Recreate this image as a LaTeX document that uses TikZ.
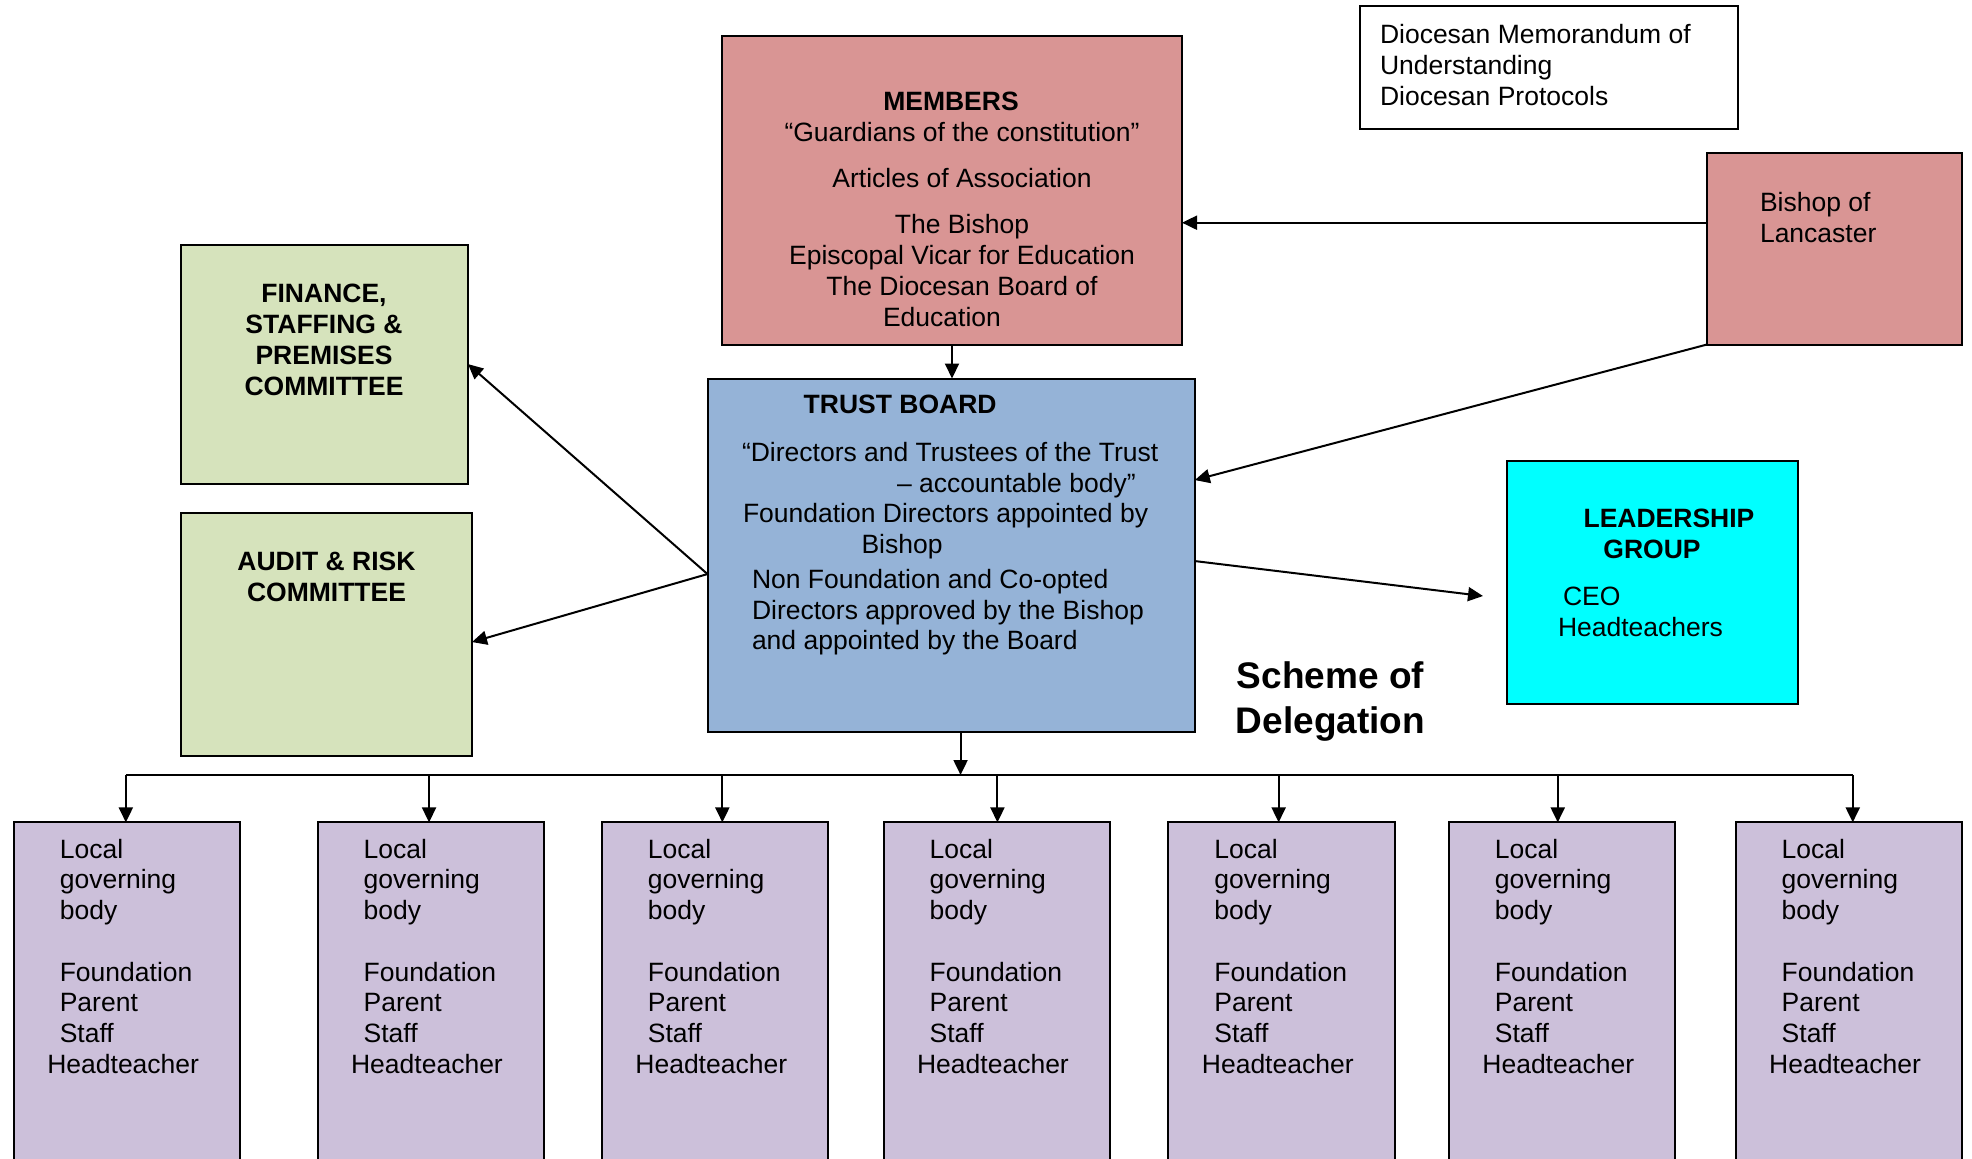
\documentclass[tikz,border=0pt]{standalone}
\usepackage{fontspec}
\setmainfont{Liberation Sans}
\usetikzlibrary{arrows.meta,calc}
\definecolor{memc}{HTML}{D99594}
\definecolor{finc}{HTML}{D6E3BC}
\definecolor{tbc}{HTML}{95B3D7}
\definecolor{leadc}{HTML}{00FFFF}
\definecolor{lgbc}{HTML}{CCC0DA}
\newcommand\fn{\fontsize{13.25pt}{15.5pt}\selectfont}
\newcommand\fnl{\fontsize{13.25pt}{15.35pt}\selectfont}
\newcommand\fbig{\fontsize{18.5pt}{22.5pt}\selectfont\bfseries}
\newcommand\tstrut{\rule{0pt}{10pt}}
\begin{document}
\begin{tikzpicture}[x=0.5pt,y=-0.5pt,
  box/.style={draw=black, line width=1pt, inner sep=0pt, outer sep=0pt, rectangle},
  txt/.style={inner sep=0pt, outer sep=0pt, font=\fn, align=left},
  ctxt/.style={inner sep=0pt, outer sep=0pt, font=\fn, align=center},
  conn/.style={draw=black, line width=1pt},
  arr/.style={conn, -{Triangle[length=7.5pt,width=7pt]}}]
\useasboundingbox (0,0) rectangle (1972,1158);
\clip (0,0) rectangle (1972,1158);
\fill[white] (0,0) rectangle (1972,1158);

% boxes
\node[box, fill=memc, minimum width=230pt, minimum height=154.25pt] (mem) at (952,190.25) {};
\node[box, fill=finc, minimum width=143.75pt, minimum height=119.6pt] (fin) at (324.25,364.1) {};
\node[box, fill=finc, minimum width=145.5pt, minimum height=121.45pt] (aud) at (326.5,634.05) {};
\node[box, fill=tbc, minimum width=243.65pt, minimum height=176.75pt] (tb) at (951.15,555.25) {};
\node[box, fill=white, minimum width=188.95pt, minimum height=61.35pt] (memo) at (1548.55,67.65) {};
\node[box, fill=memc, minimum width=127.5pt, minimum height=96pt] (bish) at (1834.5,248.5) {};
\node[box, fill=leadc, minimum width=145.65pt, minimum height=121.4pt] (lead) at (1652.35,582.4) {};

% texts
\node[ctxt, anchor=north] (memt) at (962,90.5) {\tstrut\textbf{MEMBERS}\hspace*{11pt}\\``Guardians of the constitution''\\[7.5pt]Articles of Association\\[7.5pt]The Bishop\\Episcopal Vicar for Education\\The Diocesan Board of\\Education\hspace*{20pt}};
\node[ctxt, anchor=north, font=\fn\bfseries] (fint) at (324,282) {\tstrut FINANCE,\\STAFFING \&\\PREMISES\\COMMITTEE};
\node[ctxt, anchor=north, font=\fn\bfseries] (audt) at (326.5,550) {\tstrut AUDIT \& RISK\\COMMITTEE};
\node[txt, anchor=north west, font=\fn\bfseries] (tbh) at (803.7,393.5) {\tstrut TRUST BOARD};
\node[txt, anchor=north west, font=\fontsize{13.25pt}{15.25pt}\selectfont] (tbt) at (742,441.5) {\tstrut``Directors and Trustees of the Trust\\\hspace*{77.5pt}-- accountable body''\\\hspace*{0.5pt}Foundation Directors appointed by\\\hspace*{59.75pt}Bishop\\[2.5pt]\hspace*{5pt}Non Foundation and Co-opted\\\hspace*{5pt}Directors approved by the Bishop\\\hspace*{5pt}and appointed by the Board};
\node[txt, anchor=north west] (memot) at (1380,23) {\tstrut Diocesan Memorandum of\\Understanding\\Diocesan Protocols};
\node[txt, anchor=north west] (bisht) at (1760,191.5) {\tstrut Bishop of\\Lancaster};
\node[ctxt, anchor=north, font=\fontsize{13.25pt}{15.7pt}\selectfont\bfseries] (leadh) at (1652,507.5) {\tstrut\hspace*{17pt}LEADERSHIP\\GROUP};
\node[txt, anchor=north west] (leadt) at (1558,585) {\tstrut\hspace*{2.5pt}CEO\\Headteachers};
\node[ctxt, anchor=north, font=\fbig] (scheme) at (1330.5,660) {\rule{0pt}{14pt}Scheme of\\Delegation};

% local governing bodies
\coordinate (bus) at (0,775);
\foreach \i/\cx/\dx in {1/127.05/-0.6, 2/430.85/-0.9, 3/715.15/3.6, 4/996.85/0.3, 5/1281.65/-1.5, 6/1562.15/-2.2, 7/1848.95/1.9} {
  \node[box, fill=lgbc, minimum width=113.25pt, minimum height=178.8pt] (lgb\i) at (\cx,1001.2) {};
  \node[txt, anchor=north west, font=\fnl] (lgbt\i) at ([xshift=23pt,yshift=-7.9pt]lgb\i.north west) {\tstrut Local\\governing\\body\\[15.35pt]Foundation\\Parent\\Staff\\\hspace*{-6.25pt}Headteacher};
  \coordinate (d\i) at ([xshift=\dx pt]lgb\i.north);
  \draw[arr] (d\i |- bus) -- (d\i);
}
\draw[conn] (d1 |- bus) -- (d7 |- bus);

% connectors
\draw[arr] (mem.south) -- (mem.south |- tb.north);
\coordinate (tbd) at ([xshift=4.7pt]tb.south);
\draw[arr] (tbd) -- (tbd |- bus);
\coordinate (bm) at ([yshift=12.9pt]bish.west);
\draw[arr] (bm) -- (bm -| mem.east);
\draw[arr] (bish.south west) -- ([yshift=37.6pt]tb.east);
\coordinate (tbl) at ([yshift=-9.4pt]tb.west);
\draw[arr] (tbl) -- (fin.east);
\draw[arr] (tbl) -- ([yshift=-4pt]aud.east);
\coordinate (leadin) at ([xshift=-11.85pt,yshift=-6.8pt]lead.west);
\draw[arr] ([yshift=-2.9pt]tb.east) -- (leadin);
\end{tikzpicture}
\end{document}
